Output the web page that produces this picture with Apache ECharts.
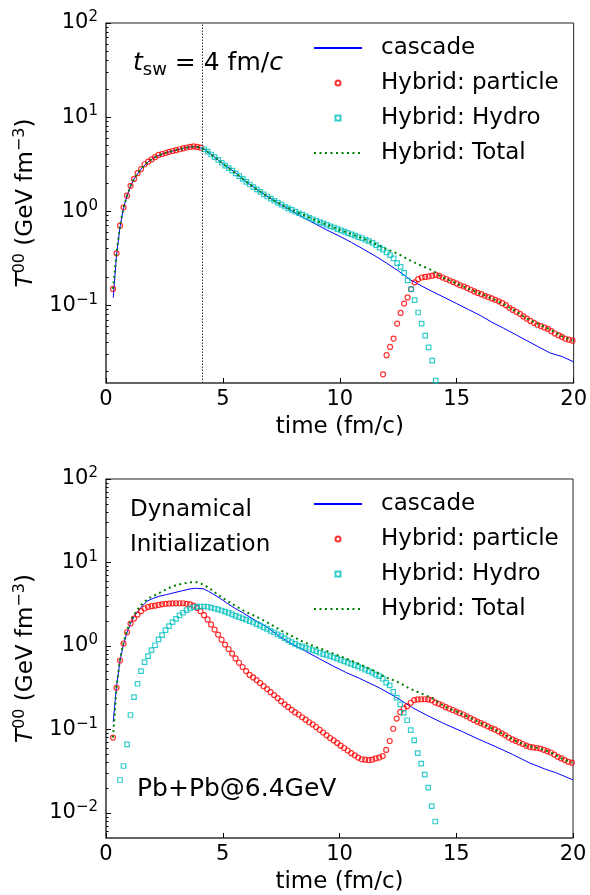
<!DOCTYPE html>
<html>
<head>
<meta charset="utf-8">
<title>T00 vs time</title>
<script src="https://cdn.jsdelivr.net/npm/echarts@6/dist/echarts.min.js"></script>
<style>
  html, body { margin: 0; padding: 0; background: #fff; }
  #chart { width: 590px; height: 895px; }
</style>
</head>
<body>
<div id="chart"></div>
<script>
// time step of the hybrid output (fm/c)
var dt = 0.15;

// ---- upper panel: t_sw = 4 fm/c ----
var topParticleEarly = [ // from t = 0.3
  0.149, 0.356, 0.70, 1.10, 1.46, 1.86, 2.2, 2.53, 2.8, 3.15,
  3.36, 3.55, 3.75, 3.96, 4.05, 4.15, 4.27, 4.36, 4.45, 4.55,
  4.65, 4.75, 4.83, 4.87, 4.82, 4.73
];
var topParticleLate = [ // from t = 11.85
  0.0184, 0.0294, 0.036, 0.0442, 0.0638, 0.0828, 0.104, 0.121, 0.148, 0.175,
  0.189, 0.197, 0.200, 0.203, 0.206, 0.210, 0.205, 0.197, 0.190, 0.183,
  0.176, 0.170, 0.163, 0.158, 0.152, 0.146, 0.140, 0.135, 0.131, 0.126,
  0.122, 0.118, 0.114, 0.110, 0.105, 0.100, 0.094, 0.089, 0.085, 0.081,
  0.076, 0.072, 0.068, 0.065, 0.062, 0.060, 0.058, 0.056, 0.053, 0.050,
  0.048, 0.046, 0.044, 0.043, 0.042
];
var topHydro = [ // from t = 4.2
  4.55, 4.30, 4.0, 3.75, 3.5, 3.27, 3.05, 2.87, 2.7, 2.52,
  2.36, 2.2, 2.05, 1.92, 1.80, 1.70, 1.60, 1.51, 1.43, 1.36,
  1.29, 1.23, 1.17, 1.12, 1.07, 1.03, 0.99, 0.95, 0.92, 0.88,
  0.85, 0.82, 0.79, 0.765, 0.74, 0.715, 0.69, 0.67, 0.645, 0.625,
  0.605, 0.585, 0.565, 0.548, 0.53, 0.515, 0.495, 0.48, 0.46, 0.435,
  0.41, 0.39, 0.365, 0.34, 0.314, 0.28, 0.255, 0.221, 0.184, 0.148,
  0.113, 0.0836, 0.0638, 0.0475, 0.0357, 0.0258, 0.0158
];
var topCascade = [
  [0.31, 0.12], [0.45, 0.34], [0.6, 0.68], [0.75, 1.08], [0.9, 1.45], [1.05, 1.85],
  [1.2, 2.2], [1.5, 2.8], [1.8, 3.35], [2.1, 3.75], [2.4, 4.05], [2.7, 4.27],
  [3.0, 4.45], [3.3, 4.65], [3.6, 4.83], [3.9, 4.83], [4.2, 4.55], [4.5, 4.0],
  [5.0, 3.2], [5.5, 2.6], [6.0, 2.05], [6.5, 1.67], [7.0, 1.38], [7.5, 1.16],
  [8.0, 0.99], [8.5, 0.84], [9.0, 0.72], [9.5, 0.62], [10.0, 0.54], [10.5, 0.465],
  [11.0, 0.395], [11.5, 0.335], [12.0, 0.28], [12.5, 0.232], [13.0, 0.187], [13.5, 0.16],
  [14.0, 0.138], [14.5, 0.12], [15.0, 0.104], [15.5, 0.09], [16.0, 0.078], [16.5, 0.066],
  [17.0, 0.057], [17.5, 0.049], [18.0, 0.042], [18.5, 0.036], [19.0, 0.031], [19.5, 0.0285],
  [20.0, 0.025]
];
var topTotal = [
  [0.3, 0.149], [0.45, 0.356], [0.6, 0.70], [0.75, 1.10], [0.9, 1.46], [1.05, 1.86],
  [1.2, 2.2], [1.35, 2.53], [1.5, 2.8], [1.8, 3.36], [2.1, 3.75], [2.4, 4.05],
  [2.7, 4.27], [3.0, 4.45], [3.3, 4.65], [3.6, 4.83], [3.9, 4.82], [4.2, 4.55],
  [4.5, 4.0], [4.8, 3.5], [5.1, 3.05], [5.4, 2.7], [5.7, 2.36], [6.0, 2.05],
  [6.5, 1.67], [7.0, 1.38], [7.5, 1.17], [8.0, 1.02], [8.5, 0.9], [9.0, 0.79],
  [9.5, 0.71], [10.0, 0.63], [10.5, 0.57], [11.0, 0.51], [11.5, 0.45], [12.0, 0.395],
  [12.5, 0.35], [13.0, 0.3], [13.5, 0.262], [14.0, 0.232], [14.2, 0.21], [14.55, 0.19],
  [15.0, 0.17], [15.5, 0.15], [16.0, 0.133], [16.5, 0.118], [17.0, 0.103], [17.5, 0.087],
  [18.0, 0.072], [18.5, 0.063], [19.0, 0.055], [19.5, 0.047], [19.95, 0.042]
];

// ---- lower panel: dynamical initialization ----
var botParticle = [ // from t = 0.3
  0.08, 0.316, 0.67, 1.07, 1.46, 1.86, 2.13, 2.38, 2.61, 2.81,
  2.94, 3.0, 3.04, 3.1, 3.15, 3.2, 3.22, 3.24, 3.25, 3.25,
  3.25, 3.2, 3.15, 3.05, 2.86, 2.61, 2.34, 2.08, 1.81, 1.57,
  1.37, 1.19, 1.04, 0.92, 0.81, 0.71, 0.63, 0.56, 0.5, 0.45,
  0.42, 0.39, 0.36, 0.33, 0.305, 0.28, 0.258, 0.238, 0.218, 0.2,
  0.186, 0.172, 0.16, 0.151,
  0.140, 0.131, 0.122, 0.115, 0.107, 0.099, 0.092, 0.085, 0.079, 0.074,
  0.069, 0.064, 0.060, 0.056, 0.052, 0.049, 0.046, 0.044, 0.0435, 0.043,
  0.0435, 0.045, 0.046, 0.048, 0.0568, 0.0728, 0.102, 0.135, 0.161, 0.179,
  0.19, 0.209, 0.225, 0.229, 0.23, 0.23, 0.229, 0.224, 0.21, 0.203,
  0.195, 0.185, 0.178, 0.171, 0.164, 0.157, 0.151, 0.144, 0.137, 0.13,
  0.124, 0.119, 0.114, 0.109, 0.104, 0.1, 0.095, 0.09, 0.085, 0.08,
  0.076, 0.073, 0.07, 0.067, 0.064, 0.062, 0.061, 0.06, 0.059, 0.057,
  0.055, 0.053, 0.05, 0.047, 0.045, 0.043, 0.041, 0.040
];
var botHydro = [ // from t = 0.6
  0.0248, 0.0365, 0.0664, 0.149, 0.244, 0.353, 0.50, 0.64, 0.755, 0.89,
  1.02, 1.2, 1.35, 1.55, 1.73, 1.93, 2.11, 2.32, 2.5, 2.69,
  2.81, 2.91, 2.96, 2.97, 2.97, 2.95, 2.88, 2.81, 2.74, 2.66,
  2.58, 2.49, 2.39, 2.3, 2.22, 2.14, 2.07, 1.99, 1.91, 1.83,
  1.75, 1.67, 1.6, 1.52, 1.45, 1.38, 1.31, 1.24, 1.17, 1.11,
  1.06, 1.01, 0.98, 0.95, 0.92, 0.89, 0.86, 0.83, 0.80, 0.78,
  0.755, 0.73, 0.705, 0.68, 0.655, 0.63, 0.61, 0.59, 0.565, 0.545,
  0.52, 0.5, 0.48, 0.455, 0.435, 0.405, 0.363, 0.337, 0.283, 0.24,
  0.2, 0.158, 0.129, 0.098, 0.074, 0.052, 0.039, 0.0288, 0.0201, 0.0121,
  0.0079
];
var botCascade = [
  [0.31, 0.123], [0.45, 0.33], [0.6, 0.66], [0.75, 1.05], [0.9, 1.45], [1.05, 1.85],
  [1.2, 2.25], [1.5, 2.9], [1.75, 3.43], [2.0, 3.7], [2.3, 3.95], [2.6, 4.13],
  [3.0, 4.4], [3.3, 4.61], [3.6, 4.82], [3.8, 4.91], [4.16, 4.85], [4.4, 4.5],
  [4.58, 4.2], [4.9, 3.7], [5.16, 3.29], [5.5, 2.85], [5.87, 2.49], [6.3, 2.1],
  [6.87, 1.7], [7.44, 1.3], [8.0, 1.04], [8.5, 0.88], [9.15, 0.70], [9.7, 0.58],
  [10.29, 0.48], [10.85, 0.41], [11.7, 0.316], [12.4, 0.245], [13.13, 0.182], [13.8, 0.145],
  [14.55, 0.115], [15.27, 0.094], [15.98, 0.076], [16.7, 0.062], [17.41, 0.0503], [18.12, 0.040],
  [18.83, 0.0333], [19.26, 0.0304], [19.94, 0.0253], [20.0, 0.025]
];
var botTotal = [
  [0.3, 0.08], [0.45, 0.32], [0.6, 0.7], [0.75, 1.1], [0.9, 1.53], [1.05, 2.0],
  [1.2, 2.37], [1.5, 3.1], [1.8, 3.7], [2.1, 4.05], [2.4, 4.5], [2.7, 4.95],
  [3.0, 5.35], [3.3, 5.6], [3.6, 5.8], [3.9, 5.8], [4.2, 5.4], [4.5, 4.75],
  [4.8, 4.1], [5.1, 3.6], [5.4, 3.2], [5.7, 2.85], [6.0, 2.55], [6.5, 2.2],
  [7.0, 1.85], [7.5, 1.53], [8.0, 1.3], [8.5, 1.1], [9.0, 0.97], [9.5, 0.86],
  [10.0, 0.76], [10.5, 0.67], [11.0, 0.58], [11.5, 0.5], [12.0, 0.42], [12.5, 0.37],
  [13.0, 0.31], [13.5, 0.27], [14.0, 0.235], [14.2, 0.215], [14.55, 0.185], [15.0, 0.164],
  [15.5, 0.142], [16.0, 0.121], [16.5, 0.104], [17.0, 0.088], [17.5, 0.074], [18.0, 0.064],
  [18.5, 0.06], [19.0, 0.054], [19.5, 0.045], [19.95, 0.04]
];

var names = ['cascade', 'Hybrid: particle', 'Hybrid: Hydro', 'Hybrid: Total'];
var tSwitch = 4.13;
var topMin = -1.827, botMin = -2.3;   // log10 of the lower y limits
var font = 'DejaVu Sans';

function onGrid(t0, vals) {
  return vals.map(function (v, i) { return [+(t0 + i * dt).toFixed(2), Math.log10(v)]; });
}
function pairs(list) {
  return list.map(function (p) { return [p[0], Math.log10(p[1])]; });
}
function majors(lo) {
  var out = [];
  for (var e = Math.ceil(lo); e <= 2; e++) out.push(e);
  return out;
}
function minors(lo) {
  var out = [];
  for (var e = Math.floor(lo); e < 2; e++) {
    for (var m = 2; m <= 9; m++) {
      var v = e + Math.log10(m);
      if (v >= lo) out.push(v);
    }
  }
  return out;
}
function powLabel(v) {
  var e = Math.round(v);
  return '{b|10}{s|' + (e < 0 ? '\u2212' + (-e) : e) + '}';
}

function xAxisFor(i) {
  return {
    type: 'value', gridIndex: i, min: 0, max: 20, interval: 5,
    axisLine: { onZero: false, lineStyle: { color: '#555', width: 1.5 } },
    axisTick: { inside: true, length: 5, lineStyle: { color: '#000' } },
    axisLabel: { fontSize: 21, color: '#000', margin: 6, fontFamily: font },
    splitLine: { show: false },
    name: 'time (fm/c)', nameLocation: 'middle', nameGap: 33,
    nameTextStyle: { fontSize: 23, color: '#000', fontFamily: font }
  };
}
function yMajor(i, lo) {
  return {
    type: 'value', gridIndex: i, min: lo, max: 2, position: 'left',
    axisLine: { show: true, onZero: false, lineStyle: { color: '#555', width: 1.5 } },
    axisTick: { show: true, inside: true, length: 5, customValues: majors(lo), lineStyle: { color: '#000' } },
    axisLabel: {
      customValues: majors(lo), formatter: powLabel, margin: 8,
      rich: {
        b: { fontSize: 21, color: '#000', fontFamily: font, lineHeight: 26 },
        s: { fontSize: 15, color: '#000', fontFamily: font, lineHeight: 15, verticalAlign: 'top' }
      }
    },
    splitLine: { show: false },
    name: '{i|T}{s|00}{n| (GeV fm}{s|\u22123}{n|)}',
    nameLocation: 'middle', nameRotate: 90, nameGap: 66,
    nameTextStyle: {
      color: '#000', fontFamily: font, fontSize: 23,
      rich: {
        i: { fontSize: 23, fontStyle: 'italic', fontFamily: font, color: '#000', lineHeight: 28 },
        n: { fontSize: 23, fontFamily: font, color: '#000', lineHeight: 28 },
        s: { fontSize: 16, fontFamily: font, color: '#000', lineHeight: 16, verticalAlign: 'top' }
      }
    }
  };
}
function yMinor(i, lo) {
  return {
    type: 'value', gridIndex: i, min: lo, max: 2, position: 'left',
    axisLine: { show: false, onZero: false },
    axisTick: { show: true, inside: true, length: 2.5, customValues: minors(lo), lineStyle: { color: '#000' } },
    axisLabel: { show: false },
    splitLine: { show: false }
  };
}

function panelSeries(xi, yi, cascade, particle, hydro, total, extra) {
  var list = [
    {
      name: names[0], type: 'line', xAxisIndex: xi, yAxisIndex: yi, data: pairs(cascade),
      symbol: 'none', lineStyle: { color: '#0000ff', width: 1 },
      itemStyle: { color: 'transparent', borderWidth: 0 }, z: 2
    },
    {
      name: names[1], type: 'scatter', xAxisIndex: xi, yAxisIndex: yi, data: particle,
      symbol: 'circle', symbolSize: 5,
      itemStyle: { color: 'transparent', borderColor: '#ff0000', borderWidth: 1.2 }, z: 3
    },
    {
      name: names[2], type: 'scatter', xAxisIndex: xi, yAxisIndex: yi, data: hydro,
      symbol: 'rect', symbolSize: 4.5,
      itemStyle: { color: 'transparent', borderColor: '#00bfbf', borderWidth: 1.2 }, z: 4
    },
    {
      name: names[3], type: 'line', xAxisIndex: xi, yAxisIndex: yi, data: pairs(total),
      symbol: 'none', lineStyle: { color: '#008000', width: 2, type: [2, 3.5] },
      itemStyle: { color: 'transparent', borderWidth: 0 }, z: 5
    }
  ];
  if (extra) list[0].markLine = extra;
  return list;
}

function legendAt(top) {
  return {
    left: 313, top: top, orient: 'vertical', padding: 0,
    itemWidth: 48, itemHeight: 5, itemGap: 11, selectedMode: false,
    symbolKeepAspect: true,
    data: [
      names[0], names[1],
      { name: names[2], icon: 'path://M0,0L10,0L10,10L0,10Z' },
      names[3]
    ],
    textStyle: { fontSize: 23, color: '#000', fontFamily: font, lineHeight: 24, padding: [0, 0, 0, 14] }
  };
}

var chart = echarts.init(document.getElementById('chart'));
chart.setOption({
  animation: false,
  textStyle: { fontFamily: font },
  grid: [
    { left: 106, top: 23, width: 468, height: 360, show: true, borderColor: '#222', borderWidth: 1 },
    { left: 106, top: 479, width: 467, height: 360, show: true, borderColor: '#222', borderWidth: 1 }
  ],
  xAxis: [xAxisFor(0), xAxisFor(1)],
  yAxis: [yMajor(0, topMin), yMinor(0, topMin), yMajor(1, botMin), yMinor(1, botMin)],
  legend: [legendAt(36), legendAt(492)],
  series: [].concat(
    panelSeries(0, 0, topCascade,
      onGrid(0.3, topParticleEarly).concat(onGrid(11.85, topParticleLate)),
      onGrid(4.2, topHydro), topTotal,
      {
        silent: true, symbol: 'none', label: { show: false },
        lineStyle: { color: '#333', width: 1, type: [1.5, 1.5] },
        data: [{ xAxis: tSwitch }]
      }),
    panelSeries(1, 2, botCascade, onGrid(0.3, botParticle), onGrid(0.6, botHydro), botTotal)
  ),
  graphic: [
    {
      type: 'text', z: 10,
      style: {
        x: 133, y: 63, verticalAlign: 'middle',
        text: '{i|t}{sub|sw}{n| = 4 fm/}{i|c}',
        rich: {
          i: { fontSize: 25, fontStyle: 'italic', fontFamily: font, fill: '#000', lineHeight: 32 },
          n: { fontSize: 25, fontFamily: font, fill: '#000', lineHeight: 32 },
          sub: { fontSize: 18, fontFamily: font, fill: '#000', lineHeight: 16, verticalAlign: 'bottom' }
        }
      }
    },
    { type: 'text', z: 10, style: { x: 130, y: 510, verticalAlign: 'middle', text: 'Dynamical', fontSize: 23, fontFamily: font, fill: '#000' } },
    { type: 'text', z: 10, style: { x: 130, y: 545, verticalAlign: 'middle', text: 'Initialization', fontSize: 23, fontFamily: font, fill: '#000' } },
    { type: 'text', z: 10, style: { x: 137, y: 789, verticalAlign: 'middle', text: 'Pb+Pb@6.4GeV', fontSize: 25, fontFamily: font, fill: '#000' } }
  ]
});
</script>
</body>
</html>
